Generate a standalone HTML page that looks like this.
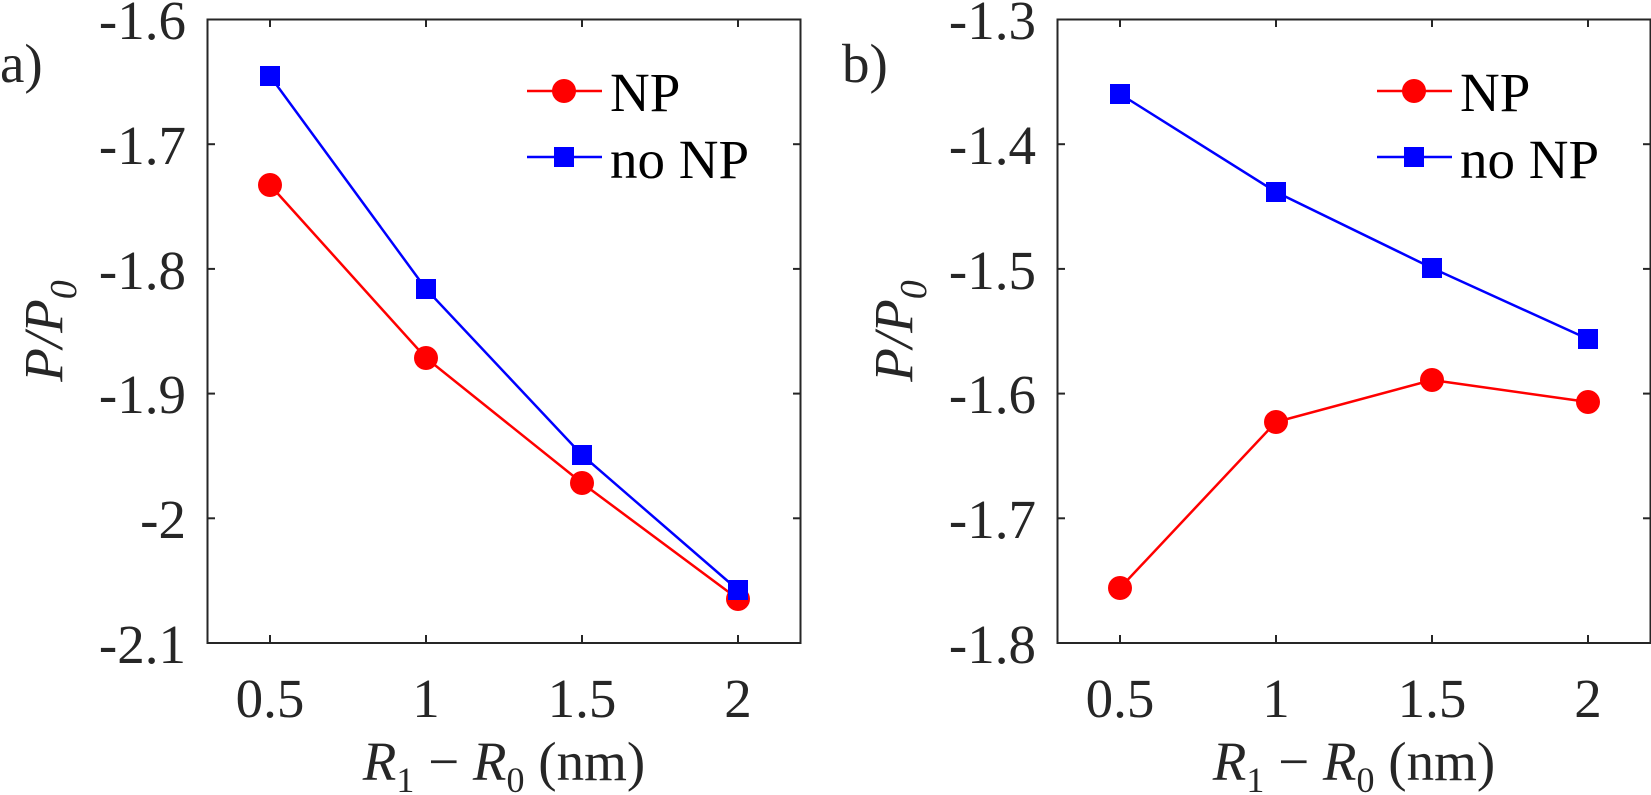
<!DOCTYPE html>
<html><head><meta charset="utf-8"><style>
html,body{margin:0;padding:0;background:#fff;}
svg{display:block;}
svg text{font-family:"Liberation Serif","Times New Roman",serif;fill:#262626;}
</style></head><body>
<svg width="1651" height="795" viewBox="0 0 1651 795" xmlns="http://www.w3.org/2000/svg" font-family="Liberation Serif, serif">
<!-- Panel a -->
<g>
<rect x="207.5" y="19.5" width="593" height="623.5" fill="none" stroke="#262626" stroke-width="2"/>
<g stroke="#262626" stroke-width="2">
<line x1="270" y1="643" x2="270" y2="635"/><line x1="426" y1="643" x2="426" y2="635"/><line x1="582" y1="643" x2="582" y2="635"/><line x1="738" y1="643" x2="738" y2="635"/>
<line x1="270" y1="19.5" x2="270" y2="27"/><line x1="426" y1="19.5" x2="426" y2="27"/><line x1="582" y1="19.5" x2="582" y2="27"/><line x1="738" y1="19.5" x2="738" y2="27"/>
<line x1="207.5" y1="144.2" x2="215" y2="144.2"/><line x1="207.5" y1="268.9" x2="215" y2="268.9"/><line x1="207.5" y1="393.6" x2="215" y2="393.6"/><line x1="207.5" y1="518.3" x2="215" y2="518.3"/>
<line x1="800.5" y1="144.2" x2="793" y2="144.2"/><line x1="800.5" y1="268.9" x2="793" y2="268.9"/><line x1="800.5" y1="393.6" x2="793" y2="393.6"/><line x1="800.5" y1="518.3" x2="793" y2="518.3"/>
</g>
<g font-size="55" text-anchor="end">
<text x="186" y="39">-1.6</text><text x="186" y="164">-1.7</text><text x="186" y="289">-1.8</text><text x="186" y="413">-1.9</text><text x="186" y="538">-2</text><text x="186" y="663">-2.1</text>
</g>
<g font-size="55" text-anchor="middle">
<text x="270" y="717">0.5</text><text x="426" y="717">1</text><text x="582" y="717">1.5</text><text x="738" y="717">2</text>
</g>
<text x="504" y="780" font-size="55" text-anchor="middle"><tspan font-style="italic">R</tspan><tspan font-size="36" dy="12">1</tspan><tspan dy="-12"> − </tspan><tspan font-style="italic">R</tspan><tspan font-size="36" dy="12">0</tspan><tspan dy="-12"> (nm)</tspan></text>
<text transform="translate(62,331) rotate(-90)" font-size="55" text-anchor="middle" font-style="italic">P/P<tspan font-size="38" dy="14">0</tspan></text>
<text x="0" y="82" font-size="55">a)</text>
<polyline points="270,185 426,358 582,483 738,599" fill="none" stroke="#f00" stroke-width="2.5"/>
<polyline points="270,76 426,289 582,455 738,590" fill="none" stroke="#00f" stroke-width="2.5"/>
<g fill="#f00"><circle cx="270" cy="185" r="12"/><circle cx="426" cy="358" r="12"/><circle cx="582" cy="483" r="12"/><circle cx="738" cy="599" r="12"/></g>
<g fill="#00f"><rect x="260" y="66" width="20" height="20"/><rect x="416" y="279" width="20" height="20"/><rect x="572" y="445" width="20" height="20"/><rect x="728" y="580" width="20" height="20"/></g>
<line x1="527" y1="91" x2="602" y2="91" stroke="#f00" stroke-width="2.5"/><circle cx="564" cy="91" r="12" fill="#f00"/>
<line x1="527" y1="157" x2="602" y2="157" stroke="#00f" stroke-width="2.5"/><rect x="554" y="147" width="20" height="20" fill="#00f"/>
<text x="610" y="111" font-size="55" style="fill:#000">NP</text>
<text x="610" y="178" font-size="55" style="fill:#000">no NP</text>
</g>
<!-- Panel b -->
<g transform="translate(850,0)">
<rect x="207.5" y="19.5" width="593" height="623.5" fill="none" stroke="#262626" stroke-width="2"/>
<g stroke="#262626" stroke-width="2">
<line x1="270" y1="643" x2="270" y2="635"/><line x1="426" y1="643" x2="426" y2="635"/><line x1="582" y1="643" x2="582" y2="635"/><line x1="738" y1="643" x2="738" y2="635"/>
<line x1="270" y1="19.5" x2="270" y2="27"/><line x1="426" y1="19.5" x2="426" y2="27"/><line x1="582" y1="19.5" x2="582" y2="27"/><line x1="738" y1="19.5" x2="738" y2="27"/>
<line x1="207.5" y1="144.2" x2="215" y2="144.2"/><line x1="207.5" y1="268.9" x2="215" y2="268.9"/><line x1="207.5" y1="393.6" x2="215" y2="393.6"/><line x1="207.5" y1="518.3" x2="215" y2="518.3"/>
<line x1="800.5" y1="144.2" x2="793" y2="144.2"/><line x1="800.5" y1="268.9" x2="793" y2="268.9"/><line x1="800.5" y1="393.6" x2="793" y2="393.6"/><line x1="800.5" y1="518.3" x2="793" y2="518.3"/>
</g>
<g font-size="55" text-anchor="end">
<text x="186" y="39">-1.3</text><text x="186" y="164">-1.4</text><text x="186" y="289">-1.5</text><text x="186" y="413">-1.6</text><text x="186" y="538">-1.7</text><text x="186" y="663">-1.8</text>
</g>
<g font-size="55" text-anchor="middle">
<text x="270" y="717">0.5</text><text x="426" y="717">1</text><text x="582" y="717">1.5</text><text x="738" y="717">2</text>
</g>
<text x="504" y="780" font-size="55" text-anchor="middle"><tspan font-style="italic">R</tspan><tspan font-size="36" dy="12">1</tspan><tspan dy="-12"> − </tspan><tspan font-style="italic">R</tspan><tspan font-size="36" dy="12">0</tspan><tspan dy="-12"> (nm)</tspan></text>
<text transform="translate(62,331) rotate(-90)" font-size="55" text-anchor="middle" font-style="italic">P/P<tspan font-size="38" dy="14">0</tspan></text>
<text x="-8" y="82" font-size="55">b)</text>
<polyline points="270,588 426,422 582,380 738,402" fill="none" stroke="#f00" stroke-width="2.5"/>
<polyline points="270,94 426,192 582,268 738,339" fill="none" stroke="#00f" stroke-width="2.5"/>
<g fill="#f00"><circle cx="270" cy="588" r="12"/><circle cx="426" cy="422" r="12"/><circle cx="582" cy="380" r="12"/><circle cx="738" cy="402" r="12"/></g>
<g fill="#00f"><rect x="260" y="84" width="20" height="20"/><rect x="416" y="182" width="20" height="20"/><rect x="572" y="258" width="20" height="20"/><rect x="728" y="329" width="20" height="20"/></g>
<line x1="527" y1="91" x2="602" y2="91" stroke="#f00" stroke-width="2.5"/><circle cx="564" cy="91" r="12" fill="#f00"/>
<line x1="527" y1="157" x2="602" y2="157" stroke="#00f" stroke-width="2.5"/><rect x="554" y="147" width="20" height="20" fill="#00f"/>
<text x="610" y="111" font-size="55" style="fill:#000">NP</text>
<text x="610" y="178" font-size="55" style="fill:#000">no NP</text>
</g>
</svg>
</body></html>
